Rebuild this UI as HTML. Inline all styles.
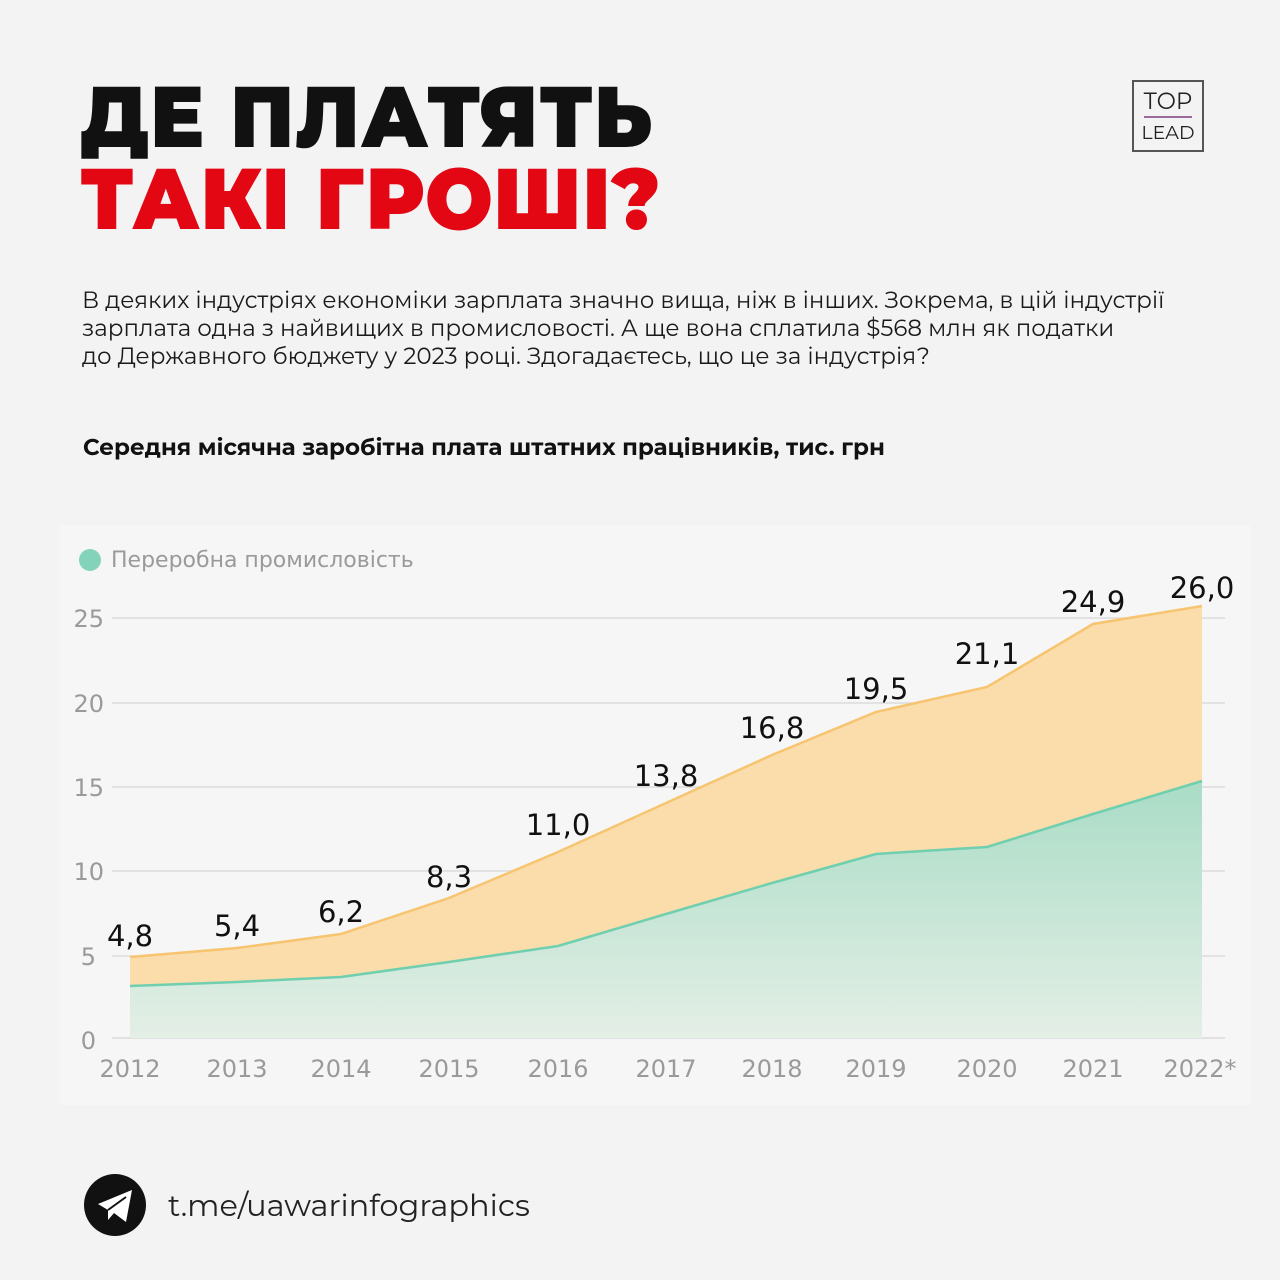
<!DOCTYPE html>
<html><head><meta charset="utf-8"><style>
body{margin:0;width:1280px;height:1280px;background:#f3f3f3;position:relative;overflow:hidden;font-family:"Montserrat","Liberation Sans","DejaVu Sans",sans-serif;}
.t{position:absolute;left:80px;font-weight:900;font-size:86px;line-height:1;letter-spacing:1px;transform:scaleX(0.93);transform-origin:left}
p{position:absolute;margin:0;}
</style></head><body>
<div class="t" style="top:74px;color:#111;">ДЕ ПЛАТЯТЬ</div>
<div class="t" style="top:156px;color:#e30613;">ТАКІ ГРОШІ?</div>
<div style="position:absolute;left:1132px;top:80px;width:72px;height:72px;border:2px solid #555;box-sizing:border-box;text-align:center;color:#222;">
<div style="font-size:23px;margin-top:7px;line-height:24px">TOP</div>
<div style="width:48px;height:2px;background:#9a6a9a;margin:3px auto 5px"></div>
<div style="font-size:19px;line-height:20px">LEAD</div></div>
<p style="left:82px;top:286px;font-size:23px;line-height:28px;color:#1a1a1a;">В деяких індустріях економіки зарплата значно вища, ніж в інших. Зокрема, в цій індустрії<br>зарплата одна з найвищих в промисловості. А ще вона сплатила $568 млн як податки<br>до Державного бюджету у 2023 році. Здогадаєтесь, що це за індустрія?</p>
<p style="left:83px;top:433px;font-size:23px;font-weight:bold;color:#111;">Середня місячна заробітна плата штатних працівників, тис. грн</p>
<svg style="position:absolute;left:0;top:0" width="1280" height="1280" font-family="'DejaVu Sans',sans-serif">
<defs>
<linearGradient id="g" x1="0" y1="0" x2="0" y2="1"><stop offset="0" stop-color="#a9dcc6"/><stop offset="1" stop-color="#e4efe6"/></linearGradient>
</defs>
<rect x="60" y="525" width="1190" height="580" fill="#f6f6f6"/>
<g stroke="#dcdcdc" stroke-width="1.5">
<line x1="112" x2="1225" y1="618" y2="618"/><line x1="112" x2="1225" y1="703" y2="703"/><line x1="112" x2="1225" y1="787" y2="787"/><line x1="112" x2="1225" y1="871" y2="871"/><line x1="112" x2="1225" y1="956" y2="956"/><line x1="112" x2="1225" y1="1038" y2="1038"/>
</g>
<polygon fill="#fbdcab" points="130,957 237,948 341,934 449,898 558,852 666,803 772,755 876,712 987,687 1093,624 1202,606 1202,1038 130,1038"/>
<polyline fill="none" stroke="#f7c470" stroke-width="2.5" points="130,957 237,948 341,934 449,898 558,852 666,803 772,755 876,712 987,687 1093,624 1202,606"/>
<polygon fill="url(#g)" points="130,986 237,982 341,977 449,962 558,946 666,914 772,883 876,854 987,847 1093,814 1202,781 1202,1038 130,1038"/>
<polyline fill="none" stroke="#6fcfae" stroke-width="2.5" points="130,986 237,982 341,977 449,962 558,946 666,914 772,883 876,854 987,847 1093,814 1202,781"/>
<circle cx="90" cy="560" r="11" fill="#83d3bb"/>
<text x="111" y="567" font-size="22" fill="#9a9a9a">Переробна промисловість</text>
<g font-size="24" fill="#9a9a9a" text-anchor="end">
<text x="104" y="627">25</text><text x="104" y="712">20</text><text x="104" y="796">15</text><text x="104" y="880">10</text><text x="96" y="965">5</text><text x="96" y="1049">0</text></g>
<g font-size="24" fill="#9a9a9a" text-anchor="middle">
<text x="130" y="1077">2012</text><text x="237" y="1077">2013</text><text x="341" y="1077">2014</text><text x="449" y="1077">2015</text><text x="558" y="1077">2016</text><text x="666" y="1077">2017</text><text x="772" y="1077">2018</text><text x="876" y="1077">2019</text><text x="987" y="1077">2020</text><text x="1093" y="1077">2021</text><text x="1200" y="1077">2022*</text></g>
<g font-size="29" fill="#111" text-anchor="middle">
<text x="130" y="946">4,8</text><text x="237" y="936">5,4</text><text x="341" y="922">6,2</text><text x="449" y="887">8,3</text><text x="558" y="835">11,0</text><text x="666" y="786">13,8</text><text x="772" y="738">16,8</text><text x="876" y="699">19,5</text><text x="987" y="664">21,1</text><text x="1093" y="612">24,9</text><text x="1202" y="598">26,0</text></g>
<circle cx="115" cy="1205" r="31" fill="#111"/>
<path d="M98 1204 L132 1190 L126 1222 L114 1213 L108 1220 L108 1210 Z" fill="#fff"/>
<path d="M108 1210 L126 1197" stroke="#111" stroke-width="2"/>
</svg>
<p style="left:168px;top:1186px;font-size:30.5px;color:#222;">t.me/uawarinfographics</p>
</body></html>
